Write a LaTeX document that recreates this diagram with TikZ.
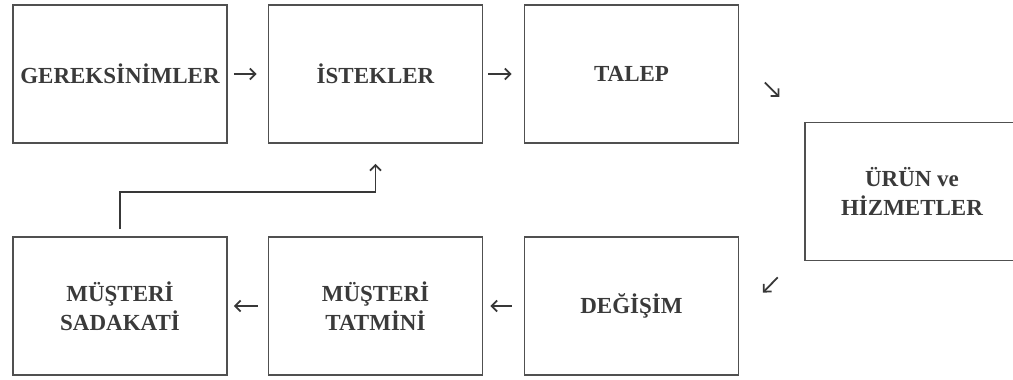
\documentclass[tikz,border=0pt]{standalone}
\usepackage{fontspec}
\setmainfont{Liberation Serif}
\usetikzlibrary{arrows.meta}
\definecolor{boxline}{HTML}{505050}
\definecolor{txt}{HTML}{3A3A3A}
\begin{document}
\begin{tikzpicture}[x=1pt,y=-1pt,
  stagebox/.style={draw=boxline,line width=1.7pt,minimum width=214pt,minimum height=138pt,
    inner sep=0pt,align=center,text=txt,font=\fontsize{23}{29}\selectfont\bfseries},
  flow/.style={draw=boxline!70!black,line width=1.8pt,-{Straight Barb[length=5.5pt,width=11pt,line width=1.8pt]}}]
\useasboundingbox (0,0) rectangle (1013,380);
\clip (0,0) rectangle (1013,380);
\node[stagebox] (ger) at (120,74) {GEREKSİNİMLER};
\node[stagebox] (ist) at (375.5,74) {İSTEKLER};
\node[stagebox] (tal) at (631.5,74) {TALEP};
\node[stagebox] (urun) at (912,191.5) {ÜRÜN ve\\HİZMETLER};
\node[stagebox] (deg) at (631.5,306) {DEĞİŞİM};
\node[stagebox] (tat) at (375.5,306) {MÜŞTERİ\\TATMİNİ};
\node[stagebox] (sad) at (120,306) {MÜŞTERİ\\SADAKATİ};
\coordinate (fb) at (120,192);
\draw[flow,shorten <=6pt,shorten >=11pt] (ger) -- (ist);
\draw[flow,shorten <=5pt,shorten >=12pt] (ist) -- (tal);
\draw[flow,shorten <=36pt,shorten >=35pt] ([yshift=17pt]tal.east) -- (urun.north west);
\draw[flow,shorten <=38pt,shorten >=34pt] ([yshift=-58.5pt]urun.west) -- ([yshift=-11pt]deg.east);
\draw[flow,shorten <=12pt,shorten >=7pt] (deg) -- (tat);
\draw[flow,shorten <=10pt,shorten >=6pt] (tat) -- (sad);
\draw[flow,line width=1.6pt,shorten <=7pt,shorten >=20pt] (sad.north) -- (fb) -| (ist.south);
\end{tikzpicture}
\end{document}
